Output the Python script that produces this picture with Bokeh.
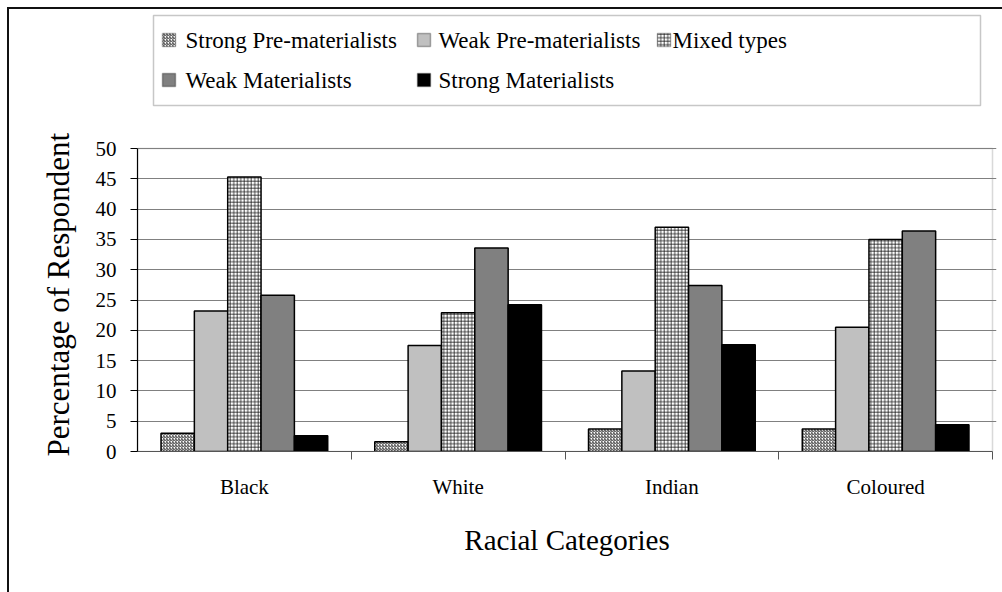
from bokeh.plotting import figure
from bokeh.models import (Range1d, FixedTicker, BoxAnnotation, Label, Title,
                          ColumnDataSource, InlineStyleSheet)
from bokeh.embed import file_html
from bokeh.resources import INLINE

# ---- data -------------------------------------------------------------
categories = ["Black", "White", "Indian", "Coloured"]
series = ["Strong Pre-materialists", "Weak Pre-materialists", "Mixed types",
          "Weak Materialists", "Strong Materialists"]

strong_pre = [3.0, 1.6, 3.7, 3.7]
weak_pre = [23.2, 17.5, 13.3, 20.5]
mixed = [45.3, 22.9, 37.0, 35.0]
weak_mat = [25.8, 33.6, 27.4, 36.4]
strong_mat = [2.6, 24.2, 17.6, 4.4]

y_ticks = [0, 5, 10, 15, 20, 25, 30, 35, 40, 45, 50]

values = [strong_pre, weak_pre, mixed, weak_mat, strong_mat]

# ---- layout (pixels) --------------------------------------------------
W, H = 1002, 592
LEFT, RIGHT_GAP, TOP_GAP, BOTTOM = 137, 6, 9, 141
FRAME_W = W - LEFT - RIGHT_GAP
FRAME_H = H - TOP_GAP - BOTTOM
PLOT_W = 855          # pixel width of the 4 category slots
PLOT_H = 303          # pixel height of the 0..50 value band
Y_MAX = 50

X_END = len(categories) * FRAME_W / PLOT_W
Y_END = Y_MAX * FRAME_H / PLOT_H


def dx(px):
    """canvas x pixel -> data x"""
    return (px - LEFT) * X_END / FRAME_W


def dy(py):
    """canvas y pixel -> data y"""
    return (H - BOTTOM - py) * Y_END / FRAME_H


# ---- styling ----------------------------------------------------------
FONT = "Liberation Serif"
BAR_W = 0.156

fills = [
    dict(fill_color="white", hatch_pattern="right_diagonal_line",
         hatch_color="#3a3a3a", hatch_scale=3.0, hatch_weight=1.0),
    dict(fill_color="#c0c0c0"),
    dict(fill_color="white", hatch_pattern="cross",
         hatch_color="#1a1a1a", hatch_scale=3.5, hatch_weight=0.8),
    dict(fill_color="#808080"),
    dict(fill_color="black"),
]

p = figure(width=W, height=H, output_backend="svg", toolbar_location=None,
           x_range=Range1d(0, X_END), y_range=Range1d(0, Y_END),
           min_border_left=LEFT, min_border_right=RIGHT_GAP,
           min_border_top=TOP_GAP, min_border_bottom=BOTTOM)
p.background_fill_color = "white"
p.border_fill_color = "white"
p.outline_line_color = None

# outer chart border (left and top edges)
p.stylesheets = [InlineStyleSheet(css="""
:host { position: relative; }
:host::after {
  content: ""; position: absolute; left: 7px; top: 7px; right: 0; bottom: 0;
  border-left: 2px solid #111; border-top: 2px solid #111;
  pointer-events: none;
}
""")]

# plot area border
p.add_layout(BoxAnnotation(left=0, right=len(categories), bottom=0, top=Y_MAX,
                           fill_color=None, line_color="#808080", line_width=1.5,
                           level="underlay"))

# bars
for k, (name, vals, style) in enumerate(zip(series, values, fills)):
    xs = [i + 0.5 + (k - 2) * BAR_W for i in range(len(categories))]
    src = ColumnDataSource(dict(x=xs, top=vals))
    p.vbar(x="x", top="top", width=BAR_W, bottom=0, source=src,
           line_color="black", line_width=1.5, **style)

# y axis
p.yaxis.ticker = FixedTicker(ticks=y_ticks)
p.yaxis.bounds = (0, Y_MAX)
p.yaxis.major_tick_out = 7
p.yaxis.major_tick_in = 0
p.yaxis.minor_tick_line_color = None
p.yaxis.axis_line_color = "black"
p.yaxis.axis_line_width = 1.2
p.yaxis.major_tick_line_color = "black"
p.yaxis.major_label_text_font = FONT
p.yaxis.major_label_text_font_size = "21px"
p.yaxis.major_label_text_color = "black"
p.yaxis.major_label_standoff = 14

# y axis title, anchored at the bottom of the value band
p.add_layout(Title(text="Percentage of Respondent", align="left", offset=-5,
                   text_font=FONT, text_font_size="31px", text_font_style="normal",
                   text_color="black", standoff=33), "left")

# x axis: labels centred under each group, ticks on group boundaries
p.xaxis.ticker = FixedTicker(ticks=[i + 0.5 for i in range(len(categories))],
                             minor_ticks=[i + 1 for i in range(len(categories))])
p.xaxis.major_label_overrides = {i + 0.5: c for i, c in enumerate(categories)}
p.xaxis.major_tick_in = 0
p.xaxis.major_tick_out = 0
p.xaxis.minor_tick_in = 0
p.xaxis.minor_tick_out = 8
p.xaxis.minor_tick_line_color = "#555555"
p.xaxis.axis_line_color = "#555555"
p.xaxis.bounds = (0, len(categories))
p.xaxis.major_label_text_font = FONT
p.xaxis.major_label_text_font_size = "21px"
p.xaxis.major_label_text_color = "black"
p.xaxis.major_label_standoff = 15
p.xaxis.axis_label = "Racial Categories"
p.xaxis.axis_label_text_font = FONT
p.xaxis.axis_label_text_font_size = "29px"
p.xaxis.axis_label_text_font_style = "normal"
p.xaxis.axis_label_text_color = "black"
p.xaxis.axis_label_standoff = 22

p.xgrid.visible = False
p.ygrid.grid_line_color = "#808080"
p.ygrid.grid_line_width = 1.2

# legend panel
p.add_layout(BoxAnnotation(left=dx(153), right=dx(980), top=dy(15), bottom=dy(105),
                           fill_color="white", fill_alpha=1.0,
                           line_color="#444444", line_width=1.5))

legend_slots = [(162, 33, 185), (417, 33, 438), (657, 33, 672),
                (162, 73, 185), (417, 73, 438)]
SQ = 13
for name, style, (sx, sy, tx) in zip(series, fills, legend_slots):
    p.add_layout(BoxAnnotation(left=dx(sx), right=dx(sx + SQ),
                               top=dy(sy), bottom=dy(sy + SQ),
                               fill_alpha=1.0, line_color="black", line_width=1.5,
                               **style))
    p.add_layout(Label(x=dx(tx), y=dy(sy + SQ / 2), text=name,
                       text_font=FONT, text_font_size="23px",
                       text_color="black", text_baseline="middle"))

open("out.html", "w").write(file_html(p, INLINE))
